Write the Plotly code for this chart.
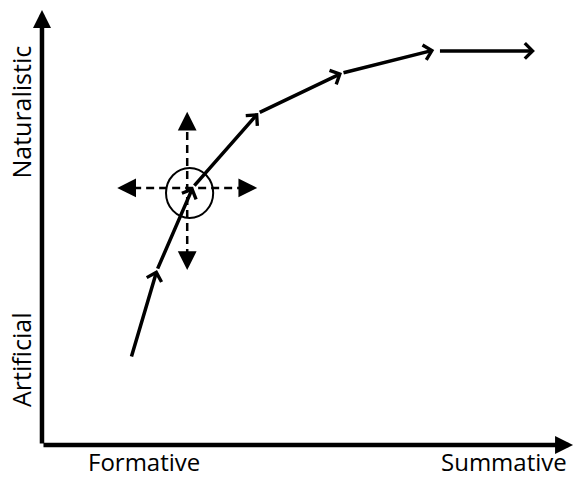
import plotly.graph_objects as go

# ---- data (axis units: 0..100 on both axes) ----
PATH_X = [16.8, 21.7, 28.5, 40.8, 56.6, 74.0]
PATH_Y = [20.0, 40.2, 59.3, 76.3, 85.5, 90.8]
LAST_X = [74.8, 93.0]
LAST_Y = [90.6, 90.6]

CROSS_X = 27.4
CROSS_Y = 59.1
CROSS_H = [14.2, 40.6]
CROSS_V = [40.2, 76.6]
CIRCLE_X = [23.4, 32.3]
CIRCLE_Y = [52.2, 63.7]

X_LABELS = ["Formative", "Summative"]
X_LABEL_POS = [19.2, 87.2]
Y_LABELS = ["Artificial", "Naturalistic"]
Y_LABEL_POS = [19.5, 76.6]

BLACK = "#000000"
FONT = "Open Sans"

fig = go.Figure()

# dashed cross
fig.add_trace(go.Scatter(
    x=[CROSS_H[0] + 3, CROSS_H[1] - 3], y=[CROSS_Y, CROSS_Y],
    mode="lines", line=dict(color=BLACK, width=2.5, dash="8px,5px"),
    hoverinfo="skip",
))
fig.add_trace(go.Scatter(
    x=[CROSS_X, CROSS_X], y=[CROSS_V[0] + 3, CROSS_V[1] - 3],
    mode="lines", line=dict(color=BLACK, width=2.5, dash="8px,5px"),
    hoverinfo="skip",
))

ann = []

# cross heads (filled triangles)
heads = [
    (CROSS_H[0], CROSS_Y, CROSS_H[0] + 3, CROSS_Y),
    (CROSS_H[1], CROSS_Y, CROSS_H[1] - 3, CROSS_Y),
    (CROSS_X, CROSS_V[0], CROSS_X, CROSS_V[0] + 3),
    (CROSS_X, CROSS_V[1], CROSS_X, CROSS_V[1] - 3),
]
for hx, hy, tx, ty in heads:
    ann.append(dict(x=hx, y=hy, ax=tx, ay=ty, xref="x", yref="y", axref="x", ayref="y",
                    showarrow=True, arrowhead=2, arrowwidth=2.5, arrowsize=1.5,
                    arrowcolor=BLACK, text=""))

# curve segments with open chevron heads
for i in range(1, len(PATH_X)):
    ann.append(dict(x=PATH_X[i], y=PATH_Y[i], ax=PATH_X[i - 1], ay=PATH_Y[i - 1],
                    xref="x", yref="y", axref="x", ayref="y",
                    showarrow=True, arrowhead=4, arrowwidth=3.5, arrowsize=0.85,
                    arrowcolor=BLACK, text=""))
ann.append(dict(x=LAST_X[1], y=LAST_Y[1], ax=LAST_X[0], ay=LAST_Y[0],
                xref="x", yref="y", axref="x", ayref="y",
                showarrow=True, arrowhead=4, arrowwidth=3.5, arrowsize=0.85,
                arrowcolor=BLACK, text=""))

# axes
ann.append(dict(x=0, y=100, ax=0, ay=0, xref="x", yref="y", axref="x", ayref="y",
                showarrow=True, arrowhead=2, arrowwidth=4.5, arrowsize=0.8,
                arrowcolor=BLACK, text=""))
ann.append(dict(x=100.2, y=0, ax=0, ay=0, xref="x", yref="y", axref="x", ayref="y",
                showarrow=True, arrowhead=2, arrowwidth=4.5, arrowsize=0.8,
                arrowcolor=BLACK, text=""))

# labels
for lbl, px in zip(X_LABELS, X_LABEL_POS):
    ann.append(dict(x=px, y=-7.75, xref="x", yref="y", yanchor="bottom",
                    text=lbl, showarrow=False, borderpad=0,
                    font=dict(family=FONT, size=24, color=BLACK, weight=500)))
for lbl, py in zip(Y_LABELS, Y_LABEL_POS):
    ann.append(dict(x=-4.0, y=py, xref="x", yref="y", text=lbl, showarrow=False,
                    textangle=-90,
                    font=dict(family=FONT, size=25, color=BLACK, weight=500)))

fig.add_shape(type="circle", xref="x", yref="y",
              x0=CIRCLE_X[0], x1=CIRCLE_X[1], y0=CIRCLE_Y[0], y1=CIRCLE_Y[1],
              line=dict(color=BLACK, width=2))

fig.update_layout(
    width=576, height=479,
    margin=dict(l=0, r=0, t=0, b=0),
    paper_bgcolor="white", plot_bgcolor="white",
    showlegend=False,
    annotations=ann,
    xaxis=dict(range=[-7.92, 100.75], visible=False, fixedrange=True),
    yaxis=dict(range=[-7.82, 102.3], visible=False, fixedrange=True),
)

fig.write_html("out.html", config={"displayModeBar": False},
               post_script="document.body.style.margin='0';")
